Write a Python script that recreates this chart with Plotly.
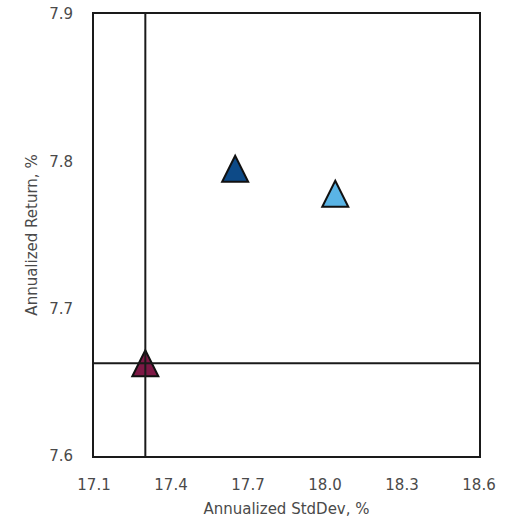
import plotly.graph_objects as go

# Portfolio risk/return points
names = ["Portfolio A", "Portfolio B", "Benchmark"]
std_dev = [17.65, 18.04, 17.30]
ann_return = [7.795, 7.778, 7.663]
colors = ["#0D4A87", "#5AB4E5", "#7D1845"]

x_ticks = [17.1, 17.4, 17.7, 18.0, 18.3, 18.6]
y_ticks = [7.6, 7.7, 7.8, 7.9]

# triangle glyph in pixels, centred on its anchor
TRI = "M -13,-13 L 13,-13 L 0,13 Z"

shapes = []
for x, y, c in zip(std_dev, ann_return, colors):
    shapes.append(dict(
        type="path", xref="x", yref="y",
        xsizemode="pixel", ysizemode="pixel",
        xanchor=x, yanchor=y, path=TRI,
        fillcolor=c, line=dict(color="#111111", width=2), layer="above",
    ))

# crosshair through the benchmark
bx, by = std_dev[2], ann_return[2]
shapes.append(dict(type="line", xref="x", yref="paper", x0=bx, x1=bx, y0=0, y1=1,
                   line=dict(color="#1a1a1a", width=2), layer="above"))
shapes.append(dict(type="line", xref="paper", yref="y", x0=0, x1=1, y0=by, y1=by,
                   line=dict(color="#1a1a1a", width=2), layer="above"))

fig = go.Figure()
fig.add_trace(go.Scatter(
    x=std_dev, y=ann_return, text=names, mode="markers",
    marker=dict(size=1, color=colors, opacity=0),
    hovertemplate="%{text}<br>StdDev %{x:.2f}%<br>Return %{y:.3f}%<extra></extra>",
    showlegend=False,
))

font = dict(family="DejaVu Sans", size=15, color="#4a4a4a")

fig.update_layout(
    width=508, height=518,
    margin=dict(l=94, r=29, t=14, b=62),
    paper_bgcolor="white", plot_bgcolor="white",
    font=font,
    shapes=shapes,
    showlegend=False,
    xaxis=dict(
        range=[17.1, 18.6], tickvals=x_ticks, tickformat=".1f",
        showgrid=False, zeroline=False, automargin=False,
        showline=True, mirror=True, linecolor="#1a1a1a", linewidth=2,
        ticks="", ticklabelstandoff=14,
        title=dict(text="Annualized StdDev, %", standoff=10, font=font),
    ),
    yaxis=dict(
        range=[7.6, 7.9], tickvals=y_ticks, tickformat=".1f",
        showgrid=False, zeroline=False, automargin=False,
        showline=True, mirror=True, linecolor="#1a1a1a", linewidth=2,
        ticks="", ticklabelstandoff=16,
        title=dict(text="Annualized Return, %", standoff=8, font=font),
    ),
)

fig.write_html("out.html")
